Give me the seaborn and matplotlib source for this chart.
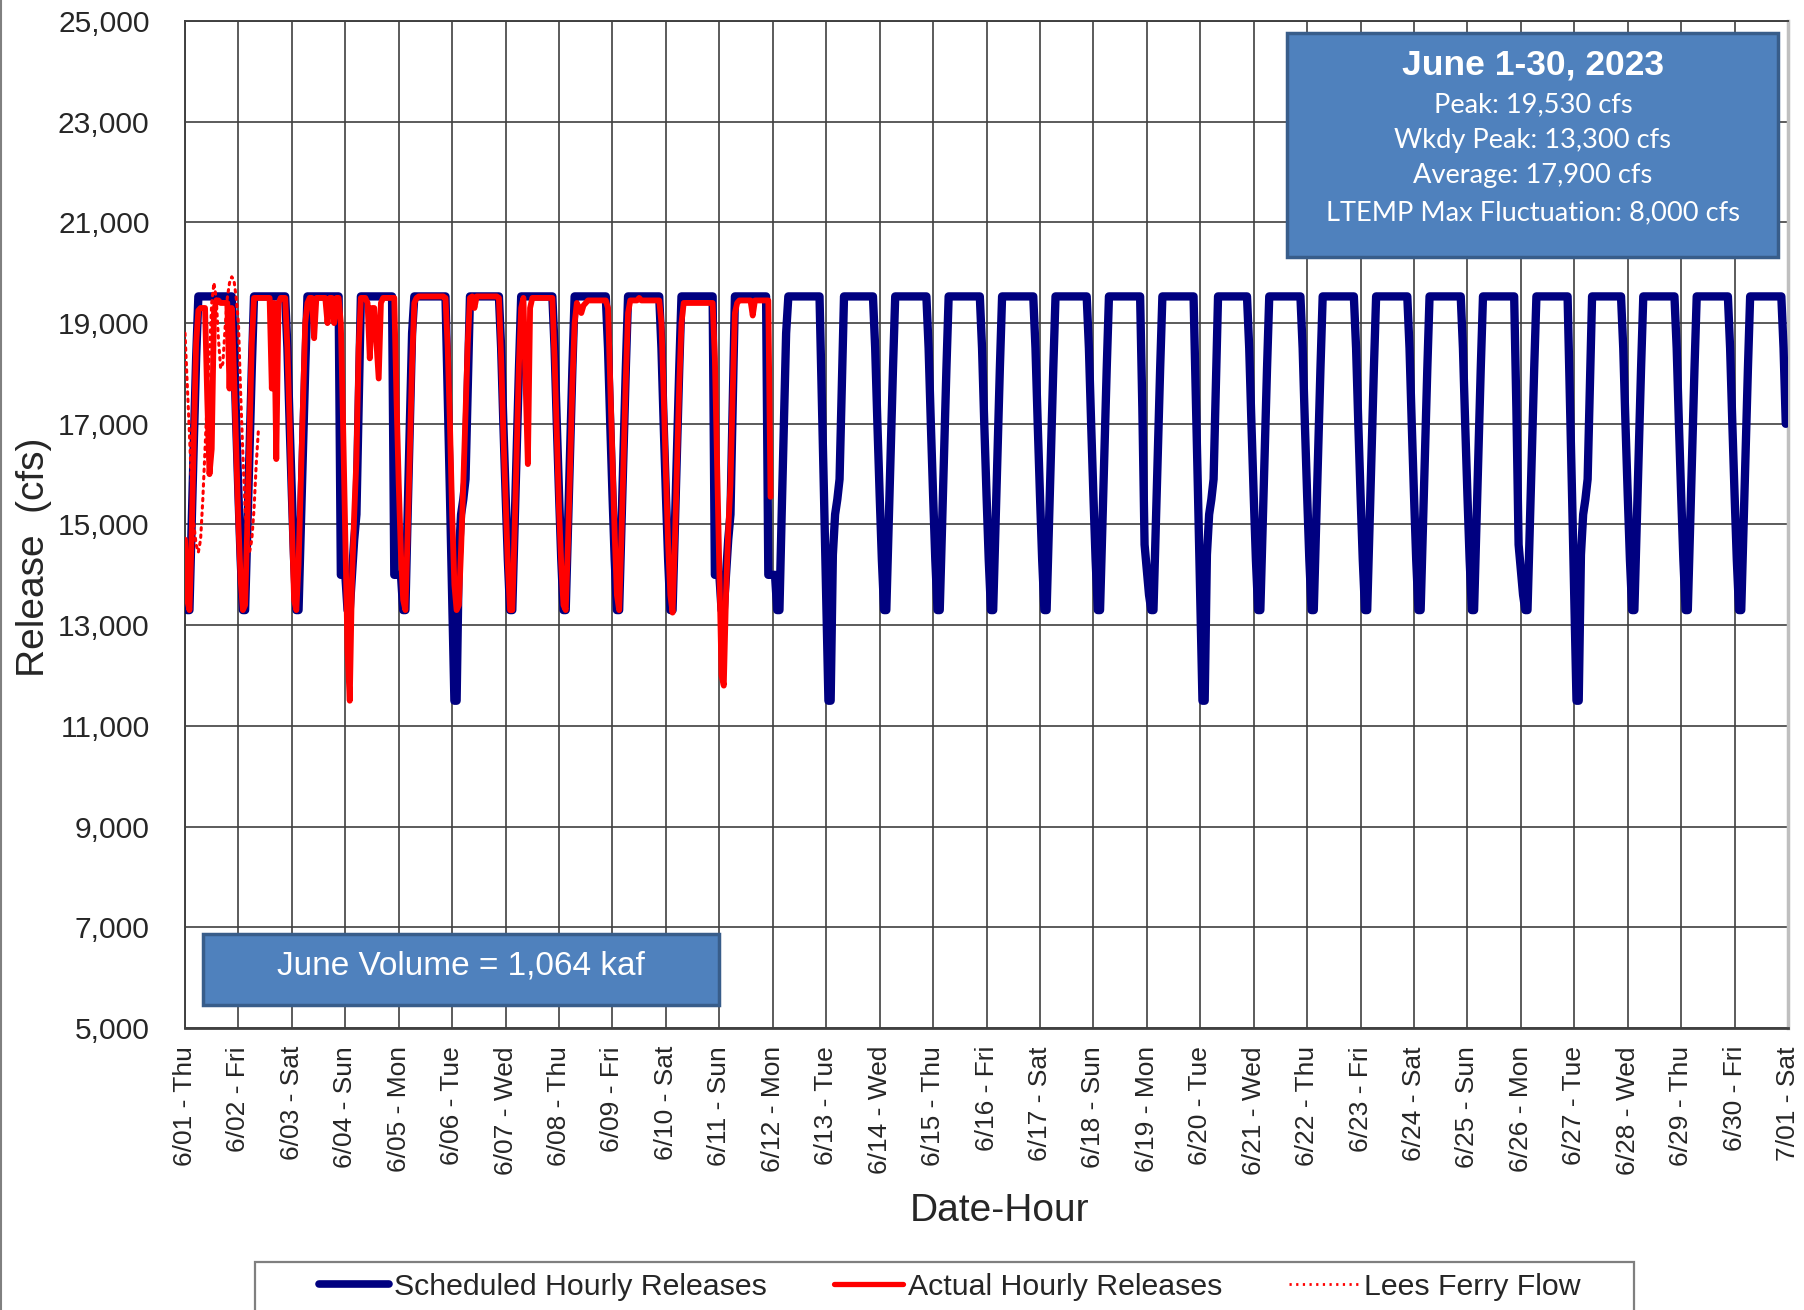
import numpy as np
import pandas as pd
import matplotlib
matplotlib.use("Agg")
import matplotlib.pyplot as plt
import seaborn as sns
from matplotlib.patches import Rectangle
from matplotlib.lines import Line2D

# ---------------- data ----------------
day_labels = ["6/01 - Thu", "6/02 - Fri", "6/03 - Sat", "6/04 - Sun", "6/05 - Mon",
              "6/06 - Tue", "6/07 - Wed", "6/08 - Thu", "6/09 - Fri", "6/10 - Sat",
              "6/11 - Sun", "6/12 - Mon", "6/13 - Tue", "6/14 - Wed", "6/15 - Thu",
              "6/16 - Fri", "6/17 - Sat", "6/18 - Sun", "6/19 - Mon", "6/20 - Tue",
              "6/21 - Wed", "6/22 - Thu", "6/23 - Fri", "6/24 - Sat", "6/25 - Sun",
              "6/26 - Mon", "6/27 - Tue", "6/28 - Wed", "6/29 - Thu", "6/30 - Fri",
              "7/01 - Sat"]

# scheduled hourly release profiles (hour 0..23)
sched_first = [13400, 13300, 13300, 15000, 16700, 18300] + [19530] * 16 + [18500, 17000]
sched_reg = [15600, 14300, 13300, 13300, 14900, 16500, 18100] + [19530] * 15 + [18500, 17000]
sched_sat = [15600, 14300, 13300, 13300, 14900, 16500, 18100] + [19530] * 15 + [14000, 14000]
sched_sun = [14000, 13300, 13300, 14000, 14700, 15200, 17400] + [19530] * 15 + [14000, 14000]
sched_mon = [14000, 14000, 13300, 13300, 15200, 17000, 18800] + [19530] * 15 + [17600, 15600]
sched_tue = [13500, 11500, 11500, 14400, 15200, 15500, 15900, 17700] + [19530] * 14 + [18500, 17000]
sched_sun2 = [15600, 14300, 13300, 13300, 14900, 16500, 18100] + [19530] * 15 + [17300, 14600]
sched_mon2 = [14100, 13600, 13300, 13300, 14900, 16500, 18100] + [19530] * 15 + [17600, 15600]

sched_day_type = ["first", "reg", "sat", "sun", "mon", "tue", "reg", "reg", "reg", "sat",
                  "sun", "mon", "tue", "reg", "reg", "reg", "reg", "sun2", "mon2", "tue",
                  "reg", "reg", "reg", "reg", "sun2", "mon2", "tue", "reg", "reg", "reg"]

# actual hourly releases, 6/01 .. 6/11
act_0601 = [14700, 13500, 13300, 14800, 16800, 18600, 19250, 19300, 19300, 19300, 17500, 16000,
            16500, 19200, 19450, 19450, 19400, 19400, 19400, 19400, 17700, 19300, 18000, 16500]
act_0602 = [15000, 13900, 13300, 13400, 15000, 16800, 18600, 19500, 19500, 19500, 19500, 19500,
            19500, 19500, 19500, 17700, 19400, 16300, 19400, 19500, 19500, 19500, 18500, 17000]
act_0603 = [15000, 13500, 13300, 14200, 15800, 17400, 19000, 19400, 19500, 19500, 18700, 19500,
            19500, 19500, 19500, 19500, 19000, 19500, 19500, 19000, 19500, 19500, 19000, 17000]
act_0604 = [14800, 12500, 11500, 13900, 15200, 16300, 18500, 19500, 19500, 19500, 19400, 18300,
            19300, 19300, 18600, 17900, 19400, 19500, 19500, 19500, 19500, 19500, 19500, 17500]
act_0605 = [15800, 14400, 13500, 13300, 14800, 16500, 18200, 19400, 19500, 19530, 19530, 19530,
            19530, 19530, 19530, 19530, 19530, 19530, 19530, 19530, 19530, 19500, 18500, 17000]
act_0606 = [15200, 13800, 13300, 13400, 14500, 15800, 17200, 18600, 19500, 19530, 19300, 19530,
            19530, 19530, 19530, 19530, 19530, 19530, 19530, 19530, 19530, 19500, 18300, 16800]
act_0607 = [15500, 14200, 13300, 13300, 14800, 16500, 18200, 19300, 19500, 17800, 16200, 19300,
            19500, 19500, 19500, 19500, 19500, 19500, 19500, 19500, 19500, 19500, 18300, 16800]
act_0608 = [15300, 14200, 13400, 13300, 14600, 16200, 17800, 19000, 19400, 19300, 19200, 19350,
            19400, 19450, 19450, 19450, 19450, 19450, 19450, 19450, 19450, 19450, 19300, 17800]
act_0609 = [16300, 14800, 13600, 13300, 14700, 16300, 17900, 19200, 19450, 19450, 19450, 19450,
            19500, 19450, 19450, 19450, 19450, 19450, 19450, 19450, 19450, 19450, 19000, 17600]
act_0610 = [16000, 14600, 13600, 13250, 14600, 16200, 17800, 19000, 19400, 19400, 19400, 19400,
            19400, 19400, 19400, 19400, 19400, 19400, 19400, 19400, 19400, 19400, 18300, 16200]
act_0611 = [14100, 12000, 11800, 13600, 14900, 15800, 17600, 19200, 19400, 19450, 19450, 19450,
            19450, 19450, 19450, 19150, 19450, 19450, 19450, 19450, 19450, 19450, 19450, 15550]

# Lees Ferry flow, hourly from 6/01 00:00
lees_ferry = [18800, 17800, 16800, 15700, 15000, 14600, 14450, 14700, 15500, 16500, 17500, 18400,
              19400, 19800, 19500, 18700, 18100, 18200, 18900, 19500, 19800, 19920, 19850, 19500,
              19000, 17600, 16400, 15300, 14700, 14450, 14700, 15300, 16200, 16900]

info_title = "June 1-30, 2023"
info_lines = ["Peak: 19,530 cfs", "Wkdy Peak: 13,300 cfs", "Average: 17,900 cfs",
              "LTEMP Max Fluctuation: 8,000 cfs"]
volume_text = "June Volume = 1,064 kaf"
legend_labels = ["Scheduled Hourly Releases", "Actual Hourly Releases", "Lees Ferry Flow"]

# ---------------- assemble series ----------------
profiles = {"first": sched_first, "reg": sched_reg, "sat": sched_sat, "sun": sched_sun,
            "mon": sched_mon, "tue": sched_tue, "sun2": sched_sun2, "mon2": sched_mon2}
hours = np.arange(24) / 24.0
sched_x, sched_y = [], []
for d, t in enumerate(sched_day_type):
    sched_x.extend(d + hours)
    sched_y.extend(profiles[t])
sched_df = pd.DataFrame({"day": sched_x, "cfs": sched_y})

actual_days = [act_0601, act_0602, act_0603, act_0604, act_0605, act_0606, act_0607,
               act_0608, act_0609, act_0610, act_0611]
act_x, act_y = [], []
for d, vals in enumerate(actual_days):
    act_x.extend(d + hours)
    act_y.extend(vals)
act_df = pd.DataFrame({"day": act_x, "cfs": act_y})

lees_df = pd.DataFrame({"day": np.arange(len(lees_ferry)) / 24.0, "cfs": lees_ferry})

# ---------------- style ----------------
sns.set_style("white")
plt.rcParams['font.family'] = ['Liberation Sans', 'DejaVu Sans']
plt.rcParams['lines.solid_joinstyle'] = 'round'
plt.rcParams['lines.solid_capstyle'] = 'round'

W, H = 1804, 1310
fig = plt.figure(figsize=(W / 100, H / 100), dpi=100)
fig.patch.set_facecolor("white")
ax_l, ax_r, ax_t, ax_b = 185, 1788, 21, 1028
ax = fig.add_axes([ax_l / W, 1 - ax_b / H, (ax_r - ax_l) / W, (ax_b - ax_t) / H])

BLUE = "#000080"
RED = "#FF0000"

sns.lineplot(data=sched_df, x="day", y="cfs", ax=ax, color=BLUE, linewidth=6.0,
             estimator=None, sort=False, zorder=3)
sns.lineplot(data=act_df, x="day", y="cfs", ax=ax, color=RED, linewidth=4.2,
             estimator=None, sort=False, zorder=4)
sns.lineplot(data=lees_df, x="day", y="cfs", ax=ax, color=RED, linewidth=2.2,
             linestyle=(0, (0.8, 1.6)), estimator=None, sort=False, zorder=5)
for ln in ax.lines[2:]:
    ln.set_dash_capstyle('round')

ax.set_xlim(0, 30)
ax.set_ylim(5000, 25000)
ax.set_xticks(range(31))
ax.set_xticklabels(day_labels, rotation=90, fontsize=19)
yt = list(range(5000, 25001, 2000))
ax.set_yticks(yt)
ax.set_yticklabels([f"{v:,}" for v in yt], fontsize=21.6)

ax.grid(True, color="#404040", linewidth=1.2)
ax.set_axisbelow(True)
ax.tick_params(axis="y", direction="out", length=6.5, width=1.2, pad=19, color="#404040")
ax.tick_params(axis="x", direction="out", length=7, width=1.2, pad=6, color="#404040")
for s in ["left", "bottom", "top"]:
    ax.spines[s].set_color("#404040")
    ax.spines[s].set_linewidth(1.4)
ax.spines["bottom"].set_linewidth(2.0)
ax.spines["right"].set_color("#BFBFBF")
ax.spines["right"].set_linewidth(2.5)

ax.set_xlabel("Date-Hour", fontsize=28)
ax.xaxis.set_label_coords(0.508, -0.164)
ax.set_ylabel("Release  (cfs)", fontsize=28)
ax.yaxis.set_label_coords(-0.083, 0.467)

# ---------------- info boxes ----------------
BOX_FILL = "#4F81BD"
BOX_EDGE = "#385D8A"

def fig_rect(x0, y0, x1, y1, **kw):
    return Rectangle((x0 / W, 1 - y1 / H), (x1 - x0) / W, (y1 - y0) / H,
                     transform=fig.transFigure, figure=fig, **kw)

fig.patches.append(fig_rect(1287, 33, 1778, 257, facecolor=BOX_FILL, edgecolor=BOX_EDGE,
                            linewidth=2.5, zorder=10))
fig.text(1533 / W, 1 - 64.5 / H, info_title, color="white", fontsize=25.5, fontweight="bold",
         ha="center", va="center", zorder=11)
for yy, txt in zip([104.7, 140.4, 176.0, 212.8], info_lines):
    fig.text(1533 / W, 1 - yy / H, txt, color="white", fontsize=19.6,
             family=["Lato", "DejaVu Sans"], ha="center", va="center", zorder=11)

fig.patches.append(fig_rect(203, 934, 719, 1005, facecolor=BOX_FILL, edgecolor=BOX_EDGE,
                            linewidth=2.5, zorder=10))
fig.text(461 / W, 1 - 966 / H, volume_text, color="white", fontsize=24,
         ha="center", va="center", zorder=11)

# ---------------- legend ----------------
fig.patches.append(fig_rect(255, 1262, 1634, 1318, facecolor="white", edgecolor="#7F7F7F",
                            linewidth=1.6, zorder=1))
handles = [Line2D([], [], color=BLUE, linewidth=5.5),
           Line2D([], [], color=RED, linewidth=3.8),
           Line2D([], [], color=RED, linewidth=2.0, linestyle=(0, (0.8, 1.6)))]
leg = fig.legend(handles, legend_labels, loc="center", bbox_to_anchor=(950 / W, 1 - 1287 / H),
                 ncol=3, frameon=False, fontsize=21.8, handlelength=2.3, handletextpad=0.17,
                 columnspacing=2.2, borderpad=0)

# left chart border
fig.lines.append(Line2D([0.0008, 0.0008], [0, 1], transform=fig.transFigure, color="#808080",
                        linewidth=1.5))

fig.savefig("out.png", dpi=100)
